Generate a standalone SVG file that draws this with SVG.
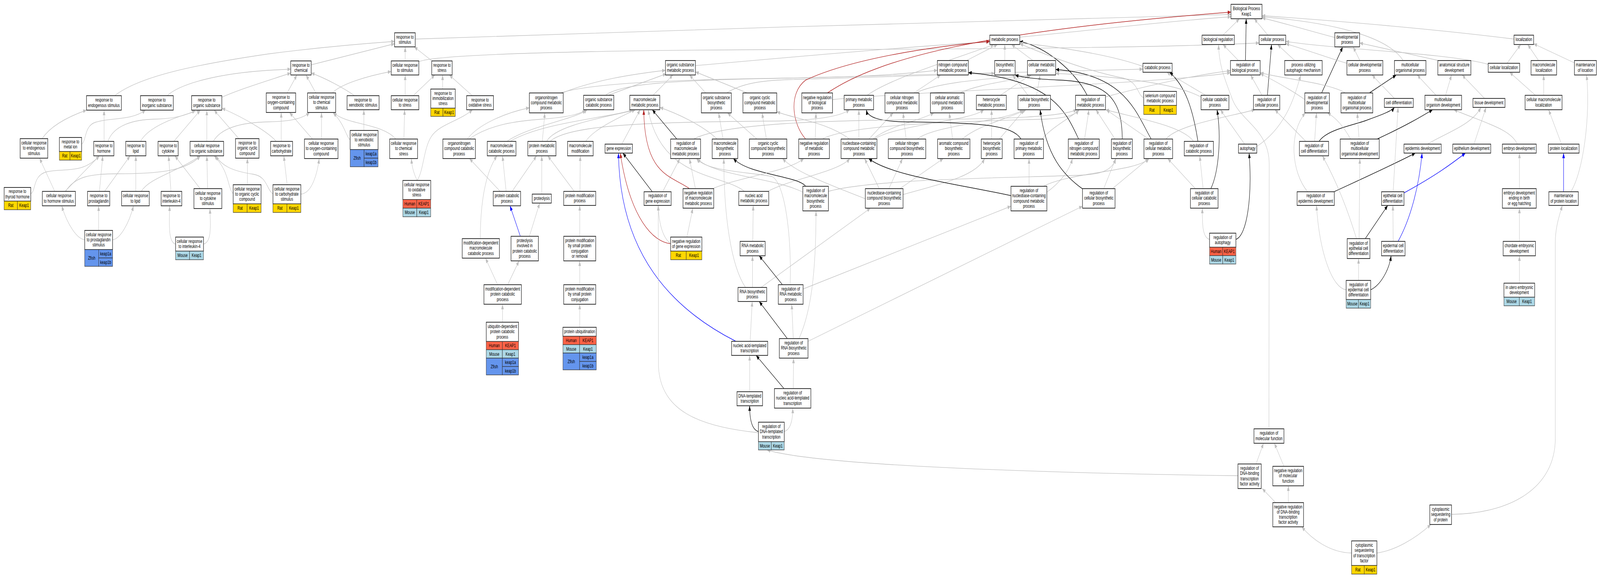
<svg xmlns="http://www.w3.org/2000/svg" width="6196" height="1480" viewBox="0 0 6196 1480">
<style>
text{font-family:"Liberation Sans",Arial,sans-serif;font-size:13px;text-anchor:middle;fill:#000}
.n rect{fill:#fff;stroke:#333;stroke-width:2}
.n rect.rat{fill:#ffd700;stroke-width:1.3}
.n rect.hum{fill:#ff6347;stroke-width:1.3}
.n rect.mou{fill:#add8e6;stroke-width:1.3}
.n rect.zf{fill:#6495ed;stroke-width:1.3}
#edges path{fill:none;stroke-width:1.3}
#edges .g{stroke:#c0c0c0;marker-end:url(#ag)}
#edges .k{stroke:#000;stroke-width:1.5;marker-end:url(#ak)}
#edges .r{stroke:#b22222;stroke-width:1.5;marker-end:url(#ar)}
#edges .b{stroke:#0000ff;stroke-width:1.5;marker-end:url(#ab)}
</style>
<defs>
<marker id="ag" viewBox="0 0 13 10" refX="13" refY="5" markerWidth="13" markerHeight="10" markerUnits="userSpaceOnUse" orient="auto"><path d="M0,0L13,5L0,10z" fill="#c0c0c0"/></marker>
<marker id="ak" viewBox="0 0 13 10" refX="13" refY="5" markerWidth="13" markerHeight="10" markerUnits="userSpaceOnUse" orient="auto"><path d="M0,0L13,5L0,10z" fill="#000"/></marker>
<marker id="ar" viewBox="0 0 13 10" refX="13" refY="5" markerWidth="13" markerHeight="10" markerUnits="userSpaceOnUse" orient="auto"><path d="M0,0L13,5L0,10z" fill="#b22222"/></marker>
<marker id="ab" viewBox="0 0 13 10" refX="13" refY="5" markerWidth="13" markerHeight="10" markerUnits="userSpaceOnUse" orient="auto"><path d="M0,0L13,5L0,10z" fill="#0000ff"/></marker>
</defs>
<rect x="0" y="0" width="6196" height="1480" fill="#fff"/>
<g id="diagram" transform="scale(0.66107 1)">
<g id="edges">
<path class="g" d="M444,245 C540,195 760,165 1040,138 C1250,120 1400,112 1528,106"/>
<path class="g" d="M647,245 C700,213 850,188 1040,180 L1126,177"/>
<path class="g" d="M859,249 C930,228 1040,206 1126,187"/>
<path class="g" d="M163,355 C200,318 280,295 335,282"/>
<path class="g" d="M316,369 C335,362 325,322 370,313 C430,300 505,310 564,282"/>
<path class="g" d="M403,362 L403,282"/>
<path class="g" d="M418,362 C440,320 520,306 600,305 C680,304 730,293 757,282"/>
<path class="g" d="M544,362 C570,330 650,304 776,282"/>
<path class="g" d="M673,362 L776,282"/>
<path class="g" d="M801,362 L801,282"/>
<path class="g" d="M925,355 L829,282"/>
<path class="g" d="M826,362 C860,322 960,313 1040,312 C1110,311 1170,306 1199,288"/>
<path class="g" d="M1070,362 C1040,340 960,306 859,277"/>
<path class="g" d="M119,496 C140,490 125,450 180,440 C250,430 320,446 385,399"/>
<path class="g" d="M252,490 L385,399"/>
<path class="g" d="M212,490 L153,405"/>
<path class="g" d="M254,490 C290,452 350,445 450,445 C600,445 720,440 776,399"/>
<path class="g" d="M385,490 L398,399"/>
<path class="g" d="M405,490 L504,399"/>
<path class="g" d="M526,490 L526,399"/>
<path class="g" d="M547,490 C580,455 680,442 776,399"/>
<path class="g" d="M662,490 L653,399"/>
<path class="g" d="M775,483 L677,399"/>
<path class="g" d="M804,483 L801,399"/>
<path class="g" d="M958,473 L958,405"/>
<path class="g" d="M903,496 C880,480 890,440 829,399"/>
<path class="g" d="M1057,497 C1030,482 1035,452 980,446 C900,438 860,425 835,399"/>
<path class="g" d="M328,614 C300,612 262,578 239,527"/>
<path class="g" d="M382,590 L382,527"/>
<path class="g" d="M436,614 C465,612 500,572 517,527"/>
<path class="g" d="M680,625 C650,620 656,570 657,527"/>
<path class="g" d="M788,625 C820,620 815,580 813,534"/>
<path class="g" d="M1205,166 L1528,112"/>
<path class="g" d="M1569,156 L1569,120"/>
<path class="g" d="M1673,156 L1604,120"/>
<path class="g" d="M1608,100 C2500,80 4000,48 4767,37"/>
<path class="g" d="M1622,158 C1700,135 2500,128 3050,127 C3800,126 4500,122 4876,110"/>
<path class="g" d="M1112,238 L1150,192"/>
<path class="g" d="M1223,238 L1185,192"/>
<path class="g" d="M1287,238 C1320,215 1420,195 1515,183"/>
<path class="g" d="M1373,245 C1330,225 1260,200 1205,187"/>
<path class="g" d="M1569,245 L1569,192"/>
<path class="g" d="M1600,245 L1684,192"/>
<path class="g" d="M1714,228 L1714,192"/>
<path class="g" d="M1829,245 L1740,192"/>
<path class="g" d="M1089,362 L1089,288"/>
<path class="g" d="M1210,356 L1121,288"/>
<path class="g" d="M1245,356 L1245,288"/>
<path class="g" d="M1409,334 L1409,281"/>
<path class="g" d="M1356,358 C1340,350 1335,318 1289,288"/>
<path class="g" d="M1564,356 L1567,281"/>
<path class="g" d="M1533,356 C1480,315 1340,320 1291,288"/>
<path class="g" d="M1112,473 L1099,399"/>
<path class="g" d="M1165,497 C1210,495 1230,440 1236,406"/>
<path class="g" d="M1615,462 C1640,440 1640,380 1670,350 C1700,318 1780,310 1830,281"/>
<path class="g" d="M1615,462 C1600,440 1595,425 1593,406"/>
<path class="g" d="M1810,356 C1850,320 1950,290 2050,276"/>
<path class="g" d="M1816,356 C1900,318 2000,310 2100,305 C2200,300 2250,292 2268,281"/>
<path class="g" d="M1963,362 C2050,322 2230,305 2274,281"/>
<path class="g" d="M1975,362 C2100,312 2380,300 2450,281"/>
<path class="g" d="M1937,490 L1818,406"/>
<path class="g" d="M1960,490 L1946,399"/>
<path class="g" d="M1983,490 L2078,399"/>
<path class="g" d="M2098,497 L2098,399"/>
<path class="g" d="M2224,490 L2121,399"/>
<path class="g" d="M2246,490 L2247,399"/>
<path class="g" d="M1860,611 C1860,520 1880,440 1925,399"/>
<path class="b" d="M2015,605 L1975,527"/>
<path class="g" d="M2050,605 L2090,520"/>
<path class="g" d="M1927,729 L1880,661"/>
<path class="g" d="M1966,729 L2010,668"/>
<path class="g" d="M1946,825 L1946,779"/>
<path class="g" d="M2245,605 L2245,526"/>
<path class="g" d="M2245,729 L2245,668"/>
<path class="g" d="M2245,838 L2245,779"/>
<path class="g" d="M2177,238 C2300,205 2450,190 2577,180"/>
<path class="g" d="M2170,238 C2300,210 2700,203 3050,200 C3300,198 3500,190 3630,180"/>
<path class="g" d="M2355,244 L2580,189"/>
<path class="g" d="M2345,244 C2400,215 2600,205 3050,200 C3700,192 4200,180 4426,177"/>
<path class="g" d="M2529,244 L2606,192"/>
<path class="g" d="M2733,238 L2670,192"/>
<path class="g" d="M2814,238 C2870,214 2950,206 3050,204 C3400,198 3700,192 3852,188"/>
<path class="g" d="M2894,238 L2693,184"/>
<path class="g" d="M2693,168 C3000,150 3500,120 3833,107"/>
<path class="g" d="M2100,362 L2110,289"/>
<path class="g" d="M2117,362 C2150,320 2350,300 2462,281"/>
<path class="g" d="M2130,362 C2200,320 2500,312 3000,310 C3150,308 3250,300 3290,281"/>
<path class="g" d="M2268,362 C2300,330 2400,300 2460,281"/>
<path class="g" d="M2408,369 L2479,281"/>
<path class="k" d="M2621,356 L2526,281"/>
<path class="k" d="M2526,491 L2412,392"/>
<path class="g" d="M2566,491 L2633,406"/>
<path class="r" d="M2670,483 C2600,450 2495,450 2493,281"/>
<path class="g" d="M2693,483 L2670,406"/>
<path class="r" d="M2597,624 C2530,620 2440,560 2402,392"/>
<path class="g" d="M2597,624 C2570,610 2552,580 2549,526"/>
<path class="g" d="M2660,607 L2683,533"/>
<path class="b" d="M2850,874 C2600,790 2400,650 2395,392"/>
<path class="g" d="M2777,356 C2720,320 2620,290 2555,275"/>
<path class="g" d="M2800,356 L2783,289"/>
<path class="g" d="M2968,356 L2951,289"/>
<path class="g" d="M2931,356 L2817,289"/>
<path class="g" d="M2971,491 C3050,460 3250,440 3291,406"/>
<path class="g" d="M2883,490 C2800,445 2560,460 2510,281"/>
<path class="g" d="M2915,618 L2917,526"/>
<path class="g" d="M2914,736 L2914,655"/>
<path class="g" d="M2887,736 C2830,680 2803,550 2803,406"/>
<path class="g" d="M2947,736 L3371,533"/>
<path class="k" d="M3030,729 L2940,655"/>
<path class="g" d="M3110,740 L3915,528"/>
<path class="g" d="M3060,729 C3065,600 3040,470 2990,452 C2900,440 2740,440 2697,406"/>
<path class="g" d="M2905,874 L2913,772"/>
<path class="k" d="M3049,867 L2940,772"/>
<path class="g" d="M3072,867 L3066,779"/>
<path class="g" d="M3094,867 C3140,800 3160,700 3160,540"/>
<path class="g" d="M3129,874 L4192,528"/>
<path class="g" d="M2903,1003 L2903,910"/>
<path class="k" d="M3036,995 L2928,910"/>
<path class="g" d="M3072,995 L3073,917"/>
<path class="k" d="M2937,1105 C2910,1100 2903,1070 2903,1039"/>
<path class="g" d="M3037,1105 C3062,1100 3070,1075 3070,1045"/>
<path class="g" d="M2937,1108 C2700,1092 2560,1050 2550,940 L2549,526"/>
<path class="g" d="M4794,1218 C4400,1215 3200,1200 2970,1152"/>
<path class="k" d="M3120,477 C3090,450 2900,448 2840,406"/>
<path class="g" d="M3208,490 C3400,455 4000,455 4200,448 C4280,445 4310,430 4321,406"/>
<path class="g" d="M3109,492 C3000,455 2760,450 2700,406"/>
<path class="r" d="M3120,356 C3070,320 3050,240 3120,205 C3300,150 3600,120 3833,106"/>
<path class="g" d="M3157,356 L3160,289"/>
<path class="g" d="M3184,356 C3300,315 3800,310 4050,305 C4130,302 4165,295 4177,281"/>
<path class="r" d="M3204,238 C3400,150 3800,80 4767,31"/>
<path class="g" d="M3224,255 C3500,235 4500,215 4765,186"/>
<path class="g" d="M3358,244 C3450,200 3700,150 3850,114"/>
<path class="g" d="M3743,155 L3863,114"/>
<path class="g" d="M3891,155 L3891,114"/>
<path class="g" d="M4000,155 L3917,114"/>
<path class="g" d="M3539,238 L3643,192"/>
<path class="g" d="M3545,238 C3650,205 3900,200 3990,192"/>
<path class="g" d="M3717,238 C3800,212 3950,205 3995,192"/>
<path class="g" d="M3874,244 L3990,192"/>
<path class="g" d="M3981,244 L3921,192"/>
<path class="g" d="M4014,244 L4028,192"/>
<path class="g" d="M3326,356 L3326,281"/>
<path class="g" d="M3365,356 L3459,289"/>
<path class="g" d="M3380,356 C3450,320 3560,310 3617,289"/>
<path class="g" d="M3385,356 C3480,318 3760,310 3810,281"/>
<path class="g" d="M3290,356 C3200,312 3080,305 3008,286"/>
<path class="g" d="M3509,356 L3497,289"/>
<path class="g" d="M3552,356 C3620,320 3900,310 3962,281"/>
<path class="g" d="M3689,356 L3676,289"/>
<path class="g" d="M3726,356 C3790,320 3900,305 3974,281"/>
<path class="g" d="M3840,356 L3840,281"/>
<path class="g" d="M3870,356 L3967,281"/>
<path class="g" d="M3405,483 L3348,406"/>
<path class="g" d="M3442,483 L3495,406"/>
<path class="g" d="M3485,483 L3653,406"/>
<path class="g" d="M3497,498 C3650,470 3780,450 3813,406"/>
<path class="g" d="M3351,509 C3200,470 3080,440 3030,406"/>
<path class="k" d="M3954,356 C3920,320 3800,314 3500,312 C3400,310 3360,300 3355,281"/>
<path class="g" d="M4035,356 C4080,322 4150,300 4180,281"/>
<path class="k" d="M3915,501 C3700,470 3450,450 3364,406"/>
<path class="g" d="M3985,477 L3985,406"/>
<path class="g" d="M4040,477 C4150,440 4400,440 4450,406"/>
<path class="g" d="M4054,492 C4100,470 4140,440 4153,406"/>
<path class="k" d="M4210,244 C4160,180 4050,120 3949,106"/>
<path class="g" d="M4281,248 C4500,210 4650,190 4765,181"/>
<path class="k" d="M4177,356 C4130,290 4080,205 3750,186"/>
<path class="g" d="M4200,356 L4217,281"/>
<path class="k" d="M4346,356 C4345,260 4300,210 4100,205 C4000,202 3960,198 3931,192"/>
<path class="g" d="M4318,356 L4244,281"/>
<path class="k" d="M4458,356 C4400,290 4360,190 4088,178"/>
<path class="g" d="M4448,356 L4284,281"/>
<path class="g" d="M4515,356 C4560,320 4750,300 4860,281"/>
<path class="k" d="M4639,362 C4620,280 4590,220 4529,185"/>
<path class="g" d="M4622,362 C4580,322 4400,302 4281,281"/>
<path class="g" d="M4669,244 L4518,185"/>
<path class="g" d="M4655,250 C4550,210 4300,195 4088,188"/>
<path class="k" d="M4689,483 C4720,440 4730,350 4713,281"/>
<path class="g" d="M4659,483 L4646,399"/>
<path class="g" d="M4629,483 L4522,406"/>
<path class="g" d="M4684,613 C4655,608 4656,570 4656,533"/>
<path class="k" d="M4786,613 C4830,603 4850,500 4837,392"/>
<path class="g" d="M4820,369 L4726,281"/>
<path class="g" d="M4867,375 C4970,330 5010,260 5037,192"/>
<path class="g" d="M4887,244 L4843,192"/>
<path class="k" d="M4908,244 L4924,114"/>
<path class="g" d="M4796,155 L4736,114"/>
<path class="k" d="M4823,155 L4826,48"/>
<path class="g" d="M4736,90 L4800,48"/>
<path class="g" d="M4910,90 L4857,48"/>
<path class="g" d="M5014,155 L4947,114"/>
<path class="g" d="M3949,95 C4200,80 4500,55 4767,43"/>
<path class="g" d="M4426,170 C4300,140 4100,120 3949,110"/>
<path class="g" d="M4429,250 C4405,245 4410,210 4350,200 C4200,180 4050,140 3949,112"/>
<path class="g" d="M5053,255 C5000,230 4930,205 4880,188"/>
<path class="k" d="M5118,238 L5200,120"/>
<path class="g" d="M5091,362 L5098,289"/>
<path class="g" d="M5057,362 L4937,281"/>
<path class="k" d="M5108,362 C5140,330 5250,320 5300,306 C5350,294 5390,284 5400,275"/>
<path class="g" d="M5064,491 C5000,440 4990,340 5055,289"/>
<path class="k" d="M5166,491 C5300,450 5400,420 5481,392"/>
<path class="g" d="M5213,742 C5160,738 5110,650 5098,526"/>
<path class="g" d="M5253,611 C5220,540 5180,470 5121,399"/>
<path class="g" d="M5263,611 L5266,406"/>
<path class="k" d="M5287,611 L5374,526"/>
<path class="g" d="M5261,718 L5261,662"/>
<path class="k" d="M5308,742 C5347,730 5380,690 5387,655"/>
<path class="g" d="M5395,618 L5394,526"/>
<path class="b" d="M5414,618 C5461,562 5495,480 5507,392"/>
<path class="g" d="M5395,491 L5414,275"/>
<path class="b" d="M5437,494 C5561,449 5620,420 5675,392"/>
<path class="g" d="M5263,356 L5256,289"/>
<path class="k" d="M5333,356 C5447,321 5500,300 5548,281"/>
<path class="g" d="M5230,356 C5200,320 5170,300 5140,289"/>
<path class="k" d="M5303,238 L5407,192"/>
<path class="g" d="M5210,238 C5150,212 4950,200 4880,186"/>
<path class="g" d="M5400,252 L5313,192"/>
<path class="g" d="M5561,244 L5488,192"/>
<path class="g" d="M5598,244 L5621,192"/>
<path class="g" d="M5749,252 L5662,192"/>
<path class="g" d="M5528,369 C5600,340 5700,320 5735,275"/>
<path class="g" d="M5708,369 L5755,275"/>
<path class="g" d="M5876,369 C5850,330 5750,315 5630,281"/>
<path class="g" d="M5884,483 L5884,392"/>
<path class="g" d="M5884,618 L5884,533"/>
<path class="g" d="M5884,725 L5884,655"/>
<path class="b" d="M6055,491 L6055,392"/>
<path class="g" d="M6083,491 C6130,442 6160,300 6144,192"/>
<path class="g" d="M6047,369 L5997,281"/>
<path class="g" d="M5946,244 L5846,185"/>
<path class="g" d="M5978,244 L5978,192"/>
<path class="g" d="M5836,162 L5889,114"/>
<path class="g" d="M5958,155 L5916,114"/>
<path class="g" d="M6097,161 L5939,112"/>
<path class="g" d="M5863,100 C5500,70 5100,50 4887,40"/>
<path class="g" d="M5169,96 C5050,75 4950,55 4887,46"/>
<path class="g" d="M5434,155 C5380,100 5200,60 4887,43"/>
<path class="g" d="M5266,155 L5240,120"/>
<path class="g" d="M5216,162 C5150,150 5050,125 4979,112"/>
<path class="g" d="M5571,155 L5265,110"/>
<path class="g" d="M5765,165 C5600,135 5200,128 4979,106"/>
<path class="g" d="M2686,356 C2800,316 3200,308 3600,306 C3900,304 4100,300 4170,281"/>
<path class="g" d="M2760,483 C2880,450 3050,440 3113,406"/>
<path class="k" d="M4195,485 C4120,450 4050,400 4028,281"/>
<path class="g" d="M4274,483 L4321,406"/>
<path class="g" d="M4308,483 L4448,406"/>
<path class="g" d="M4914,1098 L4915,420 C4915,330 4800,310 4770,250 C4735,190 4720,160 4719,114"/>
<path class="g" d="M4864,1188 L4893,1135"/>
<path class="g" d="M4972,1194 L4935,1135"/>
<path class="g" d="M4940,1287 L4888,1251"/>
<path class="g" d="M4989,1287 L4989,1244"/>
<path class="g" d="M5234,1416 C5150,1415 5080,1380 5041,1349"/>
<path class="g" d="M5332,1416 C5400,1410 5480,1380 5541,1343"/>
<path class="g" d="M5621,1317 C5850,1315 6023,1250 6023,1122 L6023,620 C6023,580 6040,550 6050,526"/>
</g>
<g id="n_bp" class="n"><rect x="4767" y="11" width="120" height="37"/><text x="4827" y="26.35">Biological Process<tspan x="4827" dy="13.3">Keap1</tspan></text></g>
<g id="n_rs" class="n"><rect x="1528" y="84" width="80" height="36"/><text x="1568" y="98.85">response to<tspan x="1568" dy="13.3">stimulus</tspan></text></g>
<g id="n_mp" class="n"><rect x="3833" y="90" width="116" height="24"/><text x="3891" y="105.5">metabolic process</text></g>
<g id="n_br" class="n"><rect x="4655" y="90" width="125" height="24"/><text x="4717.5" y="105.5">biological regulation</text></g>
<g id="n_cp" class="n"><rect x="4876" y="90" width="103" height="24"/><text x="4927.5" y="105.5">cellular process</text></g>
<g id="n_dp" class="n"><rect x="5169" y="84" width="96" height="36"/><text x="5217" y="98.85">developmental<tspan x="5217" dy="13.3">process</tspan></text></g>
<g id="n_loc" class="n"><rect x="5863" y="90" width="76" height="24"/><text x="5901" y="105.5">localization</text></g>
<g id="n_rc" class="n"><rect x="1126" y="156" width="79" height="36"/><text x="1165.5" y="170.85">response to<tspan x="1165.5" dy="13.3">chemical</tspan></text></g>
<g id="n_crs" class="n"><rect x="1515" y="156" width="107" height="36"/><text x="1568.5" y="170.85">cellular response<tspan x="1568.5" dy="13.3">to stimulus</tspan></text></g>
<g id="n_rst" class="n"><rect x="1672" y="156" width="79" height="36"/><text x="1711.5" y="170.85">response to<tspan x="1711.5" dy="13.3">stress</tspan></text></g>
<g id="n_osmp" class="n"><rect x="2577" y="155" width="116" height="37"/><text x="2635" y="170.35">organic substance<tspan x="2635" dy="13.3">metabolic process</tspan></text></g>
<g id="n_ncmp" class="n"><rect x="3630" y="155" width="120" height="37"/><text x="3690" y="170.35">nitrogen compound<tspan x="3690" dy="13.3">metabolic process</tspan></text></g>
<g id="n_bsp" class="n"><rect x="3852" y="155" width="79" height="37"/><text x="3891.5" y="170.35">biosynthetic<tspan x="3891.5" dy="13.3">process</tspan></text></g>
<g id="n_cmp" class="n"><rect x="3979" y="155" width="109" height="37"/><text x="4033.5" y="170.35">cellular metabolic<tspan x="4033.5" dy="13.3">process</tspan></text></g>
<g id="n_catp" class="n"><rect x="4426" y="162" width="113" height="23"/><text x="4482.5" y="177">catabolic process</text></g>
<g id="n_rbp" class="n"><rect x="4765" y="155" width="115" height="37"/><text x="4822.5" y="170.35">regulation of<tspan x="4822.5" dy="13.3">biological process</tspan></text></g>
<g id="n_pam" class="n"><rect x="4975" y="155" width="145" height="37"/><text x="5047.5" y="170.35">process utilizing<tspan x="5047.5" dy="13.3">autophagic mechanism</tspan></text></g>
<g id="n_cdp" class="n"><rect x="5216" y="155" width="139" height="37"/><text x="5285.5" y="170.35">cellular developmental<tspan x="5285.5" dy="13.3">process</tspan></text></g>
<g id="n_mop" class="n"><rect x="5400" y="155" width="122" height="37"/><text x="5461" y="170.35">multicellular<tspan x="5461" dy="13.3">organismal process</tspan></text></g>
<g id="n_asd" class="n"><rect x="5568" y="155" width="128" height="37"/><text x="5632" y="170.35">anatomical structure<tspan x="5632" dy="13.3">development</tspan></text></g>
<g id="n_cloc" class="n"><rect x="5763" y="162" width="122" height="23"/><text x="5824" y="177">cellular localization</text></g>
<g id="n_mloc" class="n"><rect x="5929" y="155" width="99" height="37"/><text x="5978.5" y="170.35">macromolecule<tspan x="5978.5" dy="13.3">localization</tspan></text></g>
<g id="n_mol" class="n"><rect x="6097" y="155" width="85" height="37"/><text x="6139.5" y="170.35">maintenance<tspan x="6139.5" dy="13.3">of location</tspan></text></g>
<g id="n_res" class="n"><rect x="335" y="245" width="135" height="37"/><text x="402.5" y="260.35">response to<tspan x="402.5" dy="13.3">endogenous stimulus</tspan></text></g>
<g id="n_ris" class="n"><rect x="544" y="245" width="127" height="37"/><text x="607.5" y="260.35">response to<tspan x="607.5" dy="13.3">inorganic substance</tspan></text></g>
<g id="n_ros" class="n"><rect x="742" y="245" width="117" height="37"/><text x="800.5" y="260.35">response to<tspan x="800.5" dy="13.3">organic substance</tspan></text></g>
<g id="n_rocc" class="n"><rect x="1031" y="238" width="114" height="50"/><text x="1088" y="253.2">response to<tspan x="1088" dy="13.3">oxygen-containing</tspan><tspan x="1088" dy="13.3">compound</tspan></text></g>
<g id="n_crcs" class="n"><rect x="1191" y="238" width="109" height="50"/><text x="1245.5" y="253.2">cellular response<tspan x="1245.5" dy="13.3">to chemical</tspan><tspan x="1245.5" dy="13.3">stimulus</tspan></text></g>
<g id="n_rxs" class="n"><rect x="1344" y="245" width="124" height="36"/><text x="1406" y="259.85">response to<tspan x="1406" dy="13.3">xenobiotic stimulus</tspan></text></g>
<g id="n_crst" class="n"><rect x="1515" y="245" width="107" height="36"/><text x="1568.5" y="259.85">cellular response<tspan x="1568.5" dy="13.3">to stress</tspan></text></g>
<g id="n_rimm" class="n"><rect x="1668" y="228" width="95" height="49"/><text x="1715.5" y="242.7">response to<tspan x="1715.5" dy="13.3">immobilization</tspan><tspan x="1715.5" dy="13.3">stress</tspan></text><rect class="rat" x="1668" y="277" width="47.5" height="21"/><rect class="rat" x="1715.5" y="277" width="47.5" height="21"/><text x="1691.75" y="292">Rat</text><text x="1739.25" y="292">Keap1</text></g>
<g id="n_rox" class="n"><rect x="1807" y="245" width="104" height="36"/><text x="1859" y="259.85">response to<tspan x="1859" dy="13.3">oxidative stress</tspan></text></g>
<g id="n_oncmp" class="n"><rect x="2050" y="238" width="131" height="51"/><text x="2115.5" y="253.7">organonitrogen<tspan x="2115.5" dy="13.3">compound metabolic</tspan><tspan x="2115.5" dy="13.3">process</tspan></text></g>
<g id="n_oscp" class="n"><rect x="2260" y="244" width="117" height="37"/><text x="2318.5" y="259.35">organic substance<tspan x="2318.5" dy="13.3">catabolic process</tspan></text></g>
<g id="n_mmp" class="n"><rect x="2439" y="244" width="116" height="37"/><text x="2497" y="259.35">macromolecule<tspan x="2497" dy="13.3">metabolic process</tspan></text></g>
<g id="n_osbp" class="n"><rect x="2716" y="238" width="116" height="51"/><text x="2774" y="253.7">organic substance<tspan x="2774" dy="13.3">biosynthetic</tspan><tspan x="2774" dy="13.3">process</tspan></text></g>
<g id="n_occmp" class="n"><rect x="2877" y="238" width="131" height="51"/><text x="2942.5" y="253.7">organic cyclic<tspan x="2942.5" dy="13.3">compound metabolic</tspan><tspan x="2942.5" dy="13.3">process</tspan></text></g>
<g id="n_nrbp" class="n"><rect x="3105" y="238" width="119" height="51"/><text x="3164.5" y="253.7">negative regulation<tspan x="3164.5" dy="13.3">of biological</tspan><tspan x="3164.5" dy="13.3">process</tspan></text></g>
<g id="n_pmp" class="n"><rect x="3269" y="244" width="114" height="37"/><text x="3326" y="259.35">primary metabolic<tspan x="3326" dy="13.3">process</tspan></text></g>
<g id="n_cncmp" class="n"><rect x="3427" y="238" width="132" height="51"/><text x="3493" y="253.7">cellular nitrogen<tspan x="3493" dy="13.3">compound metabolic</tspan><tspan x="3493" dy="13.3">process</tspan></text></g>
<g id="n_cacmp" class="n"><rect x="3603" y="238" width="131" height="51"/><text x="3668.5" y="253.7">cellular aromatic<tspan x="3668.5" dy="13.3">compound metabolic</tspan><tspan x="3668.5" dy="13.3">process</tspan></text></g>
<g id="n_hmp" class="n"><rect x="3781" y="244" width="116" height="37"/><text x="3839" y="259.35">heterocycle<tspan x="3839" dy="13.3">metabolic process</tspan></text></g>
<g id="n_cbp" class="n"><rect x="3942" y="244" width="126" height="37"/><text x="4005" y="259.35">cellular biosynthetic<tspan x="4005" dy="13.3">process</tspan></text></g>
<g id="n_rmp" class="n"><rect x="4165" y="244" width="116" height="37"/><text x="4223" y="259.35">regulation of<tspan x="4223" dy="13.3">metabolic process</tspan></text></g>
<g id="n_secmp" class="n"><rect x="4429" y="234" width="127" height="36"/><text x="4492.5" y="248.85">selenium compound<tspan x="4492.5" dy="13.3">metabolic process</tspan></text><rect class="rat" x="4429" y="270" width="63.5" height="23"/><rect class="rat" x="4492.5" y="270" width="63.5" height="23"/><text x="4460.75" y="286">Rat</text><text x="4524.25" y="286">Keap1</text></g>
<g id="n_ccatp" class="n"><rect x="4651" y="244" width="108" height="37"/><text x="4705" y="259.35">cellular catabolic<tspan x="4705" dy="13.3">process</tspan></text></g>
<g id="n_rcp" class="n"><rect x="4854" y="244" width="102" height="37"/><text x="4905" y="259.35">regulation of<tspan x="4905" dy="13.3">cellular process</tspan></text></g>
<g id="n_rdp" class="n"><rect x="5053" y="238" width="95" height="51"/><text x="5100.5" y="253.7">regulation of<tspan x="5100.5" dy="13.3">developmental</tspan><tspan x="5100.5" dy="13.3">process</tspan></text></g>
<g id="n_rmop" class="n"><rect x="5193" y="238" width="123" height="51"/><text x="5254.5" y="253.7">regulation of<tspan x="5254.5" dy="13.3">multicellular</tspan><tspan x="5254.5" dy="13.3">organismal process</tspan></text></g>
<g id="n_cd" class="n"><rect x="5361" y="252" width="112" height="23"/><text x="5417" y="267">cell differentiation</text></g>
<g id="n_mod" class="n"><rect x="5518" y="244" width="142" height="37"/><text x="5589" y="259.35">multicellular<tspan x="5589" dy="13.3">organism development</tspan></text></g>
<g id="n_td" class="n"><rect x="5704" y="252" width="124" height="23"/><text x="5766" y="267">tissue development</text></g>
<g id="n_cmloc" class="n"><rect x="5906" y="244" width="143" height="37"/><text x="5977.5" y="259.35">cellular macromolecule<tspan x="5977.5" dy="13.3">localization</tspan></text></g>
<g id="n_cres" class="n"><rect x="78" y="355" width="107" height="50"/><text x="131.5" y="370.2">cellular response<tspan x="131.5" dy="13.3">to endogenous</tspan><tspan x="131.5" dy="13.3">stimulus</tspan></text></g>
<g id="n_rmi" class="n"><rect x="230" y="352" width="86" height="36"/><text x="273" y="366.85">response to<tspan x="273" dy="13.3">metal ion</tspan></text><rect class="rat" x="230" y="388" width="41" height="22"/><rect class="rat" x="271" y="388" width="45" height="22"/><text x="250.5" y="403.5">Rat</text><text x="293.5" y="403.5">Keap1</text></g>
<g id="n_rh" class="n"><rect x="363" y="362" width="78" height="37"/><text x="402" y="377.35">response to<tspan x="402" dy="13.3">hormone</tspan></text></g>
<g id="n_rl" class="n"><rect x="487" y="362" width="78" height="37"/><text x="526" y="377.35">response to<tspan x="526" dy="13.3">lipid</tspan></text></g>
<g id="n_rcy" class="n"><rect x="612" y="362" width="78" height="37"/><text x="651" y="377.35">response to<tspan x="651" dy="13.3">cytokine</tspan></text></g>
<g id="n_cros" class="n"><rect x="736" y="362" width="130" height="37"/><text x="801" y="377.35">cellular response<tspan x="801" dy="13.3">to organic substance</tspan></text></g>
<g id="n_rocyc" class="n"><rect x="912" y="355" width="91" height="50"/><text x="957.5" y="370.2">response to<tspan x="957.5" dy="13.3">organic cyclic</tspan><tspan x="957.5" dy="13.3">compound</tspan></text></g>
<g id="n_rcarb" class="n"><rect x="1048" y="362" width="85" height="37"/><text x="1090.5" y="377.35">response to<tspan x="1090.5" dy="13.3">carbohydrate</tspan></text></g>
<g id="n_crocc" class="n"><rect x="1179" y="356" width="130" height="50"/><text x="1244" y="371.2">cellular response<tspan x="1244" dy="13.3">to oxygen-containing</tspan><tspan x="1244" dy="13.3">compound</tspan></text></g>
<g id="n_crxs" class="n"><rect x="1356" y="334" width="108" height="49"/><text x="1410" y="348.7">cellular response<tspan x="1410" dy="13.3">to xenobiotic</tspan><tspan x="1410" dy="13.3">stimulus</tspan></text><rect class="zf" x="1356" y="383" width="54" height="44"/><rect class="zf" x="1410" y="383" width="54" height="22"/><rect class="zf" x="1410" y="405" width="54" height="22"/><text x="1383" y="409.5">Zfish</text><text x="1437" y="398.5">keap1a</text><text x="1437" y="420.5">keap1b</text></g>
<g id="n_crcst" class="n"><rect x="1509" y="356" width="108" height="50"/><text x="1563" y="371.2">cellular response<tspan x="1563" dy="13.3">to chemical</tspan><tspan x="1563" dy="13.3">stress</tspan></text></g>
<g id="n_onccp" class="n"><rect x="1715" y="356" width="126" height="50"/><text x="1778" y="371.2">organonitrogen<tspan x="1778" dy="13.3">compound catabolic</tspan><tspan x="1778" dy="13.3">process</tspan></text></g>
<g id="n_mcp" class="n"><rect x="1887" y="362" width="111" height="37"/><text x="1942.5" y="377.35">macromolecule<tspan x="1942.5" dy="13.3">catabolic process</tspan></text></g>
<g id="n_prmp" class="n"><rect x="2044" y="362" width="109" height="37"/><text x="2098.5" y="377.35">protein metabolic<tspan x="2098.5" dy="13.3">process</tspan></text></g>
<g id="n_mmod" class="n"><rect x="2198" y="362" width="99" height="37"/><text x="2247.5" y="377.35">macromolecule<tspan x="2247.5" dy="13.3">modification</tspan></text></g>
<g id="n_ge" class="n"><rect x="2343" y="369" width="106" height="23"/><text x="2396" y="384">gene expression</text></g>
<g id="n_rmmp" class="n"><rect x="2597" y="356" width="116" height="50"/><text x="2655" y="371.2">regulation of<tspan x="2655" dy="13.3">macromolecule</tspan><tspan x="2655" dy="13.3">metabolic process</tspan></text></g>
<g id="n_mbp" class="n"><rect x="2758" y="356" width="99" height="50"/><text x="2807.5" y="371.2">macromolecule<tspan x="2807.5" dy="13.3">biosynthetic</tspan><tspan x="2807.5" dy="13.3">process</tspan></text></g>
<g id="n_occbp" class="n"><rect x="2902" y="356" width="145" height="50"/><text x="2974.5" y="371.2">organic cyclic<tspan x="2974.5" dy="13.3">compound biosynthetic</tspan><tspan x="2974.5" dy="13.3">process</tspan></text></g>
<g id="n_nrmp" class="n"><rect x="3093" y="356" width="119" height="50"/><text x="3152.5" y="371.2">negative regulation<tspan x="3152.5" dy="13.3">of metabolic</tspan><tspan x="3152.5" dy="13.3">process</tspan></text></g>
<g id="n_nbcmp" class="n"><rect x="3257" y="356" width="139" height="50"/><text x="3326.5" y="371.2">nucleobase-containing<tspan x="3326.5" dy="13.3">compound metabolic</tspan><tspan x="3326.5" dy="13.3">process</tspan></text></g>
<g id="n_cncbp" class="n"><rect x="3440" y="356" width="145" height="50"/><text x="3512.5" y="371.2">cellular nitrogen<tspan x="3512.5" dy="13.3">compound biosynthetic</tspan><tspan x="3512.5" dy="13.3">process</tspan></text></g>
<g id="n_acbp" class="n"><rect x="3631" y="356" width="125" height="50"/><text x="3693.5" y="371.2">aromatic compound<tspan x="3693.5" dy="13.3">biosynthetic</tspan><tspan x="3693.5" dy="13.3">process</tspan></text></g>
<g id="n_hbp" class="n"><rect x="3800" y="356" width="81" height="50"/><text x="3840.5" y="371.2">heterocycle<tspan x="3840.5" dy="13.3">biosynthetic</tspan><tspan x="3840.5" dy="13.3">process</tspan></text></g>
<g id="n_rpmp" class="n"><rect x="3927" y="356" width="114" height="50"/><text x="3984" y="371.2">regulation of<tspan x="3984" dy="13.3">primary metabolic</tspan><tspan x="3984" dy="13.3">process</tspan></text></g>
<g id="n_rncmp" class="n"><rect x="4137" y="356" width="120" height="50"/><text x="4197" y="371.2">regulation of<tspan x="4197" dy="13.3">nitrogen compound</tspan><tspan x="4197" dy="13.3">metabolic process</tspan></text></g>
<g id="n_rbsp" class="n"><rect x="4304" y="356" width="81" height="50"/><text x="4344.5" y="371.2">regulation of<tspan x="4344.5" dy="13.3">biosynthetic</tspan><tspan x="4344.5" dy="13.3">process</tspan></text></g>
<g id="n_rcmp" class="n"><rect x="4430" y="356" width="111" height="50"/><text x="4485.5" y="371.2">regulation of<tspan x="4485.5" dy="13.3">cellular metabolic</tspan><tspan x="4485.5" dy="13.3">process</tspan></text></g>
<g id="n_rcatp" class="n"><rect x="4586" y="362" width="113" height="37"/><text x="4642.5" y="377.35">regulation of<tspan x="4642.5" dy="13.3">catabolic process</tspan></text></g>
<g id="n_aut" class="n"><rect x="4796" y="369" width="71" height="23"/><text x="4831.5" y="384">autophagy</text></g>
<g id="n_rcd" class="n"><rect x="5032" y="362" width="113" height="37"/><text x="5088.5" y="377.35">regulation of<tspan x="5088.5" dy="13.3">cell differentiation</tspan></text></g>
<g id="n_rmod" class="n"><rect x="5190" y="356" width="151" height="50"/><text x="5265.5" y="371.2">regulation of<tspan x="5265.5" dy="13.3">multicellular</tspan><tspan x="5265.5" dy="13.3">organismal development</tspan></text></g>
<g id="n_epd" class="n"><rect x="5437" y="369" width="144" height="23"/><text x="5509" y="384">epidermis development</text></g>
<g id="n_etd" class="n"><rect x="5626" y="369" width="147" height="23"/><text x="5699.5" y="384">epithelium development</text></g>
<g id="n_emb" class="n"><rect x="5818" y="369" width="131" height="23"/><text x="5883.5" y="384">embryo development</text></g>
<g id="n_ploc" class="n"><rect x="5996" y="369" width="119" height="23"/><text x="6055.5" y="384">protein localization</text></g>
<g id="n_rth" class="n"><rect x="16" y="480" width="103" height="35"/><text x="67.5" y="494.35">response to<tspan x="67.5" dy="13.3">thyroid hormone</tspan></text><rect class="rat" x="16" y="515" width="51.5" height="22"/><rect class="rat" x="67.5" y="515" width="51.5" height="22"/><text x="41.75" y="530.5">Rat</text><text x="93.25" y="530.5">Keap1</text></g>
<g id="n_crhs" class="n"><rect x="164" y="490" width="128" height="37"/><text x="228" y="505.35">cellular response<tspan x="228" dy="13.3">to hormone stimulus</tspan></text></g>
<g id="n_rpg" class="n"><rect x="339" y="490" width="86" height="37"/><text x="382" y="505.35">response to<tspan x="382" dy="13.3">prostaglandin</tspan></text></g>
<g id="n_crl" class="n"><rect x="471" y="490" width="107" height="37"/><text x="524.5" y="505.35">cellular response<tspan x="524.5" dy="13.3">to lipid</tspan></text></g>
<g id="n_ril4" class="n"><rect x="624" y="490" width="80" height="37"/><text x="664" y="505.35">response to<tspan x="664" dy="13.3">interleukin-4</tspan></text></g>
<g id="n_crcy" class="n"><rect x="751" y="483" width="108" height="51"/><text x="805" y="498.7">cellular response<tspan x="805" dy="13.3">to cytokine</tspan><tspan x="805" dy="13.3">stimulus</tspan></text></g>
<g id="n_crocyc" class="n"><rect x="903" y="473" width="108" height="49"/><text x="957" y="487.7">cellular response<tspan x="957" dy="13.3">to organic cyclic</tspan><tspan x="957" dy="13.3">compound</tspan></text><rect class="rat" x="903" y="522" width="54" height="22"/><rect class="rat" x="957" y="522" width="54" height="22"/><text x="930" y="537.5">Rat</text><text x="984" y="537.5">Keap1</text></g>
<g id="n_crcarb" class="n"><rect x="1057" y="473" width="108" height="49"/><text x="1111" y="487.7">cellular response<tspan x="1111" dy="13.3">to carbohydrate</tspan><tspan x="1111" dy="13.3">stimulus</tspan></text><rect class="rat" x="1057" y="522" width="54" height="22"/><rect class="rat" x="1111" y="522" width="54" height="22"/><text x="1084" y="537.5">Rat</text><text x="1138" y="537.5">Keap1</text></g>
<g id="n_crox" class="n"><rect x="1560" y="462" width="108" height="49"/><text x="1614" y="476.7">cellular response<tspan x="1614" dy="13.3">to oxidative</tspan><tspan x="1614" dy="13.3">stress</tspan></text><rect class="hum" x="1560" y="511" width="54" height="22"/><rect class="hum" x="1614" y="511" width="54" height="22"/><rect class="mou" x="1560" y="533" width="54" height="22"/><rect class="mou" x="1614" y="533" width="54" height="22"/><text x="1587" y="526.5">Human</text><text x="1641" y="526.5">KEAP1</text><text x="1587" y="548.5">Mouse</text><text x="1641" y="548.5">Keap1</text></g>
<g id="n_pcp" class="n"><rect x="1910" y="490" width="106" height="37"/><text x="1963" y="505.35">protein catabolic<tspan x="1963" dy="13.3">process</tspan></text></g>
<g id="n_prot" class="n"><rect x="2061" y="497" width="74" height="23"/><text x="2098" y="512">proteolysis</text></g>
<g id="n_pmodp" class="n"><rect x="2183" y="490" width="124" height="36"/><text x="2245" y="504.85">protein modification<tspan x="2245" dy="13.3">process</tspan></text></g>
<g id="n_rge" class="n"><rect x="2494" y="491" width="105" height="35"/><text x="2546.5" y="505.35">regulation of<tspan x="2546.5" dy="13.3">gene expression</tspan></text></g>
<g id="n_nrmmp" class="n"><rect x="2645" y="483" width="119" height="50"/><text x="2704.5" y="498.2">negative regulation<tspan x="2704.5" dy="13.3">of macromolecule</tspan><tspan x="2704.5" dy="13.3">metabolic process</tspan></text></g>
<g id="n_nacmp" class="n"><rect x="2861" y="490" width="116" height="36"/><text x="2919" y="504.85">nucleic acid<tspan x="2919" dy="13.3">metabolic process</tspan></text></g>
<g id="n_rmbp" class="n"><rect x="3109" y="477" width="99" height="63"/><text x="3158.5" y="492.05">regulation of<tspan x="3158.5" dy="13.3">macromolecule</tspan><tspan x="3158.5" dy="13.3">biosynthetic</tspan><tspan x="3158.5" dy="13.3">process</tspan></text></g>
<g id="n_nbcbp" class="n"><rect x="3351" y="483" width="146" height="50"/><text x="3424" y="498.2">nucleobase-containing<tspan x="3424" dy="13.3">compound biosynthetic</tspan><tspan x="3424" dy="13.3">process</tspan></text></g>
<g id="n_rnbcmp" class="n"><rect x="3915" y="477" width="139" height="63"/><text x="3984.5" y="492.05">regulation of<tspan x="3984.5" dy="13.3">nucleobase-containing</tspan><tspan x="3984.5" dy="13.3">compound metabolic</tspan><tspan x="3984.5" dy="13.3">process</tspan></text></g>
<g id="n_rcbp" class="n"><rect x="4192" y="483" width="126" height="50"/><text x="4255" y="498.2">regulation of<tspan x="4255" dy="13.3">cellular biosynthetic</tspan><tspan x="4255" dy="13.3">process</tspan></text></g>
<g id="n_rccatp" class="n"><rect x="4610" y="483" width="107" height="50"/><text x="4663.5" y="498.2">regulation of<tspan x="4663.5" dy="13.3">cellular catabolic</tspan><tspan x="4663.5" dy="13.3">process</tspan></text></g>
<g id="n_red" class="n"><rect x="5023" y="491" width="144" height="35"/><text x="5095" y="505.35">regulation of<tspan x="5095" dy="13.3">epidermis development</tspan></text></g>
<g id="n_ecd" class="n"><rect x="5350" y="491" width="87" height="35"/><text x="5393.5" y="505.35">epithelial cell<tspan x="5393.5" dy="13.3">differentiation</tspan></text></g>
<g id="n_edb" class="n"><rect x="5818" y="483" width="131" height="50"/><text x="5883.5" y="498.2">embryo development<tspan x="5883.5" dy="13.3">ending in birth</tspan><tspan x="5883.5" dy="13.3">or egg hatching</tspan></text></g>
<g id="n_mpl" class="n"><rect x="5998" y="491" width="114" height="35"/><text x="6055" y="505.35">maintenance<tspan x="6055" dy="13.3">of protein location</tspan></text></g>
<g id="n_crpg" class="n"><rect x="328" y="590" width="108" height="49"/><text x="382" y="604.7">cellular response<tspan x="382" dy="13.3">to prostaglandin</tspan><tspan x="382" dy="13.3">stimulus</tspan></text><rect class="zf" x="328" y="639" width="54" height="43"/><rect class="zf" x="382" y="639" width="54" height="21.5"/><rect class="zf" x="382" y="660.5" width="54" height="21.5"/><text x="355" y="665">Zfish</text><text x="409" y="654.25">keap1a</text><text x="409" y="675.75">keap1b</text></g>
<g id="n_cril4" class="n"><rect x="680" y="607" width="108" height="36"/><text x="734" y="621.85">cellular response<tspan x="734" dy="13.3">to interleukin-4</tspan></text><rect class="mou" x="680" y="643" width="54" height="22"/><rect class="mou" x="734" y="643" width="54" height="22"/><text x="707" y="658.5">Mouse</text><text x="761" y="658.5">Keap1</text></g>
<g id="n_mdmcp" class="n"><rect x="1790" y="611" width="144" height="50"/><text x="1862" y="626.2">modification-dependent<tspan x="1862" dy="13.3">macromolecule</tspan><tspan x="1862" dy="13.3">catabolic process</tspan></text></g>
<g id="n_pipcp" class="n"><rect x="1979" y="605" width="106" height="63"/><text x="2032" y="620.05">proteolysis<tspan x="2032" dy="13.3">involved in</tspan><tspan x="2032" dy="13.3">protein catabolic</tspan><tspan x="2032" dy="13.3">process</tspan></text></g>
<g id="n_pmscr" class="n"><rect x="2183" y="605" width="124" height="63"/><text x="2245" y="620.05">protein modification<tspan x="2245" dy="13.3">by small protein</tspan><tspan x="2245" dy="13.3">conjugation</tspan><tspan x="2245" dy="13.3">or removal</tspan></text></g>
<g id="n_nrge" class="n"><rect x="2597" y="607" width="121" height="36"/><text x="2657.5" y="621.85">negative regulation<tspan x="2657.5" dy="13.3">of gene expression</tspan></text><rect class="rat" x="2597" y="643" width="60.5" height="22"/><rect class="rat" x="2657.5" y="643" width="60.5" height="22"/><text x="2627.25" y="658.5">Rat</text><text x="2687.75" y="658.5">Keap1</text></g>
<g id="n_rnamp" class="n"><rect x="2866" y="618" width="97" height="37"/><text x="2914.5" y="633.35">RNA metabolic<tspan x="2914.5" dy="13.3">process</tspan></text></g>
<g id="n_rau" class="n"><rect x="4684" y="597" width="102" height="36"/><text x="4735" y="611.85">regulation of<tspan x="4735" dy="13.3">autophagy</tspan></text><rect class="hum" x="4684" y="633" width="51" height="21.5"/><rect class="hum" x="4735" y="633" width="51" height="21.5"/><rect class="mou" x="4684" y="654.5" width="51" height="21.5"/><rect class="mou" x="4735" y="654.5" width="51" height="21.5"/><text x="4709.5" y="648.25">Human</text><text x="4760.5" y="648.25">KEAP1</text><text x="4709.5" y="669.75">Mouse</text><text x="4760.5" y="669.75">Keap1</text></g>
<g id="n_rec" class="n"><rect x="5217" y="611" width="88" height="51"/><text x="5261" y="626.7">regulation of<tspan x="5261" dy="13.3">epithelial cell</tspan><tspan x="5261" dy="13.3">differentiation</tspan></text></g>
<g id="n_epc" class="n"><rect x="5350" y="618" width="91" height="37"/><text x="5395.5" y="633.35">epidermal cell<tspan x="5395.5" dy="13.3">differentiation</tspan></text></g>
<g id="n_ced" class="n"><rect x="5821" y="618" width="125" height="37"/><text x="5883.5" y="633.35">chordate embryonic<tspan x="5883.5" dy="13.3">development</tspan></text></g>
<g id="n_mdpcp" class="n"><rect x="1874" y="729" width="145" height="50"/><text x="1946.5" y="744.2">modification-dependent<tspan x="1946.5" dy="13.3">protein catabolic</tspan><tspan x="1946.5" dy="13.3">process</tspan></text></g>
<g id="n_pmsc" class="n"><rect x="2183" y="729" width="124" height="50"/><text x="2245" y="744.2">protein modification<tspan x="2245" dy="13.3">by small protein</tspan><tspan x="2245" dy="13.3">conjugation</tspan></text></g>
<g id="n_rnabp" class="n"><rect x="2858" y="736" width="111" height="36"/><text x="2913.5" y="750.85">RNA biosynthetic<tspan x="2913.5" dy="13.3">process</tspan></text></g>
<g id="n_rrnamp" class="n"><rect x="3014" y="729" width="96" height="50"/><text x="3062" y="744.2">regulation of<tspan x="3062" dy="13.3">RNA metabolic</tspan><tspan x="3062" dy="13.3">process</tspan></text></g>
<g id="n_recd" class="n"><rect x="5213" y="718" width="95" height="49"/><text x="5260.5" y="732.7">regulation of<tspan x="5260.5" dy="13.3">epidermal cell</tspan><tspan x="5260.5" dy="13.3">differentiation</tspan></text><rect class="mou" x="5213" y="767" width="47.5" height="22"/><rect class="mou" x="5260.5" y="767" width="47.5" height="22"/><text x="5236.75" y="782.5">Mouse</text><text x="5284.25" y="782.5">Keap1</text></g>
<g id="n_iued" class="n"><rect x="5824" y="725" width="119" height="36"/><text x="5883.5" y="739.85">in utero embryonic<tspan x="5883.5" dy="13.3">development</tspan></text><rect class="mou" x="5824" y="761" width="59.5" height="22"/><rect class="mou" x="5883.5" y="761" width="59.5" height="22"/><text x="5853.75" y="776.5">Mouse</text><text x="5913.25" y="776.5">Keap1</text></g>
<g id="n_udpcp" class="n"><rect x="1883" y="825" width="125" height="49.5"/><text x="1945.5" y="839.95">ubiquitin-dependent<tspan x="1945.5" dy="13.3">protein catabolic</tspan><tspan x="1945.5" dy="13.3">process</tspan></text><rect class="hum" x="1883" y="874.5" width="62.5" height="21"/><rect class="hum" x="1945.5" y="874.5" width="62.5" height="21"/><rect class="mou" x="1883" y="895.5" width="62.5" height="21.5"/><rect class="mou" x="1945.5" y="895.5" width="62.5" height="21.5"/><rect class="zf" x="1883" y="917" width="62.5" height="43"/><rect class="zf" x="1945.5" y="917" width="62.5" height="21.5"/><rect class="zf" x="1945.5" y="938.5" width="62.5" height="21.5"/><text x="1914.25" y="889.5">Human</text><text x="1976.75" y="889.5">KEAP1</text><text x="1914.25" y="910.75">Mouse</text><text x="1976.75" y="910.75">Keap1</text><text x="1914.25" y="943">Zfish</text><text x="1976.75" y="932.25">keap1a</text><text x="1976.75" y="953.75">keap1b</text></g>
<g id="n_pubq" class="n"><rect x="2180" y="838" width="129" height="23"/><text x="2244.5" y="853">protein ubiquitination</text><rect class="hum" x="2180" y="861" width="64.5" height="21.5"/><rect class="hum" x="2244.5" y="861" width="64.5" height="21.5"/><rect class="mou" x="2180" y="882.5" width="64.5" height="21.5"/><rect class="mou" x="2244.5" y="882.5" width="64.5" height="21.5"/><rect class="zf" x="2180" y="904" width="64.5" height="43"/><rect class="zf" x="2244.5" y="904" width="64.5" height="21.5"/><rect class="zf" x="2244.5" y="925.5" width="64.5" height="21.5"/><text x="2212.25" y="876.25">Human</text><text x="2276.75" y="876.25">KEAP1</text><text x="2212.25" y="897.75">Mouse</text><text x="2276.75" y="897.75">Keap1</text><text x="2212.25" y="930">Zfish</text><text x="2276.75" y="919.25">keap1a</text><text x="2276.75" y="940.75">keap1b</text></g>
<g id="n_natt" class="n"><rect x="2833" y="874" width="140" height="36"/><text x="2903" y="888.85">nucleic acid-templated<tspan x="2903" dy="13.3">transcription</tspan></text></g>
<g id="n_rrnabp" class="n"><rect x="3018" y="867" width="111" height="50"/><text x="3073.5" y="882.2">regulation of<tspan x="3073.5" dy="13.3">RNA biosynthetic</tspan><tspan x="3073.5" dy="13.3">process</tspan></text></g>
<g id="n_dtt" class="n"><rect x="2854" y="1003" width="99" height="36"/><text x="2903.5" y="1017.85">DNA-templated<tspan x="2903.5" dy="13.3">transcription</tspan></text></g>
<g id="n_rnatt" class="n"><rect x="2999" y="995" width="141" height="50"/><text x="3069.5" y="1010.2">regulation of<tspan x="3069.5" dy="13.3">nucleic acid-templated</tspan><tspan x="3069.5" dy="13.3">transcription</tspan></text></g>
<g id="n_rdtt" class="n"><rect x="2937" y="1081" width="100" height="50"/><text x="2987" y="1096.2">regulation of<tspan x="2987" dy="13.3">DNA-templated</tspan><tspan x="2987" dy="13.3">transcription</tspan></text><rect class="mou" x="2937" y="1131" width="50" height="21"/><rect class="mou" x="2987" y="1131" width="50" height="21"/><text x="2962" y="1146">Mouse</text><text x="3012" y="1146">Keap1</text></g>
<g id="n_rmf" class="n"><rect x="4856" y="1098" width="116" height="37"/><text x="4914" y="1113.35">regulation of<tspan x="4914" dy="13.3">molecular function</tspan></text></g>
<g id="n_rdbtf" class="n"><rect x="4794" y="1188" width="90" height="63"/><text x="4839" y="1203.05">regulation of<tspan x="4839" dy="13.3">DNA-binding</tspan><tspan x="4839" dy="13.3">transcription</tspan><tspan x="4839" dy="13.3">factor activity</tspan></text></g>
<g id="n_nrmf" class="n"><rect x="4929" y="1194" width="119" height="50"/><text x="4988.5" y="1209.2">negative regulation<tspan x="4988.5" dy="13.3">of molecular</tspan><tspan x="4988.5" dy="13.3">function</tspan></text></g>
<g id="n_nrdbtf" class="n"><rect x="4929" y="1287" width="119" height="62"/><text x="4988.5" y="1301.55">negative regulation<tspan x="4988.5" dy="13.3">of DNA-binding</tspan><tspan x="4988.5" dy="13.3">transcription</tspan><tspan x="4988.5" dy="13.3">factor activity</tspan></text></g>
<g id="n_csp" class="n"><rect x="5537" y="1293" width="84" height="50"/><text x="5579" y="1308.2">cytoplasmic<tspan x="5579" dy="13.3">sequestering</tspan><tspan x="5579" dy="13.3">of protein</tspan></text></g>
<g id="n_cstf" class="n"><rect x="5234" y="1385" width="98" height="63"/><text x="5283" y="1400.05">cytoplasmic<tspan x="5283" dy="13.3">sequestering</tspan><tspan x="5283" dy="13.3">of transcription</tspan><tspan x="5283" dy="13.3">factor</tspan></text><rect class="rat" x="5234" y="1448" width="49" height="22"/><rect class="rat" x="5283" y="1448" width="49" height="22"/><text x="5258.5" y="1463.5">Rat</text><text x="5307.5" y="1463.5">Keap1</text></g>
</g>
</svg>
